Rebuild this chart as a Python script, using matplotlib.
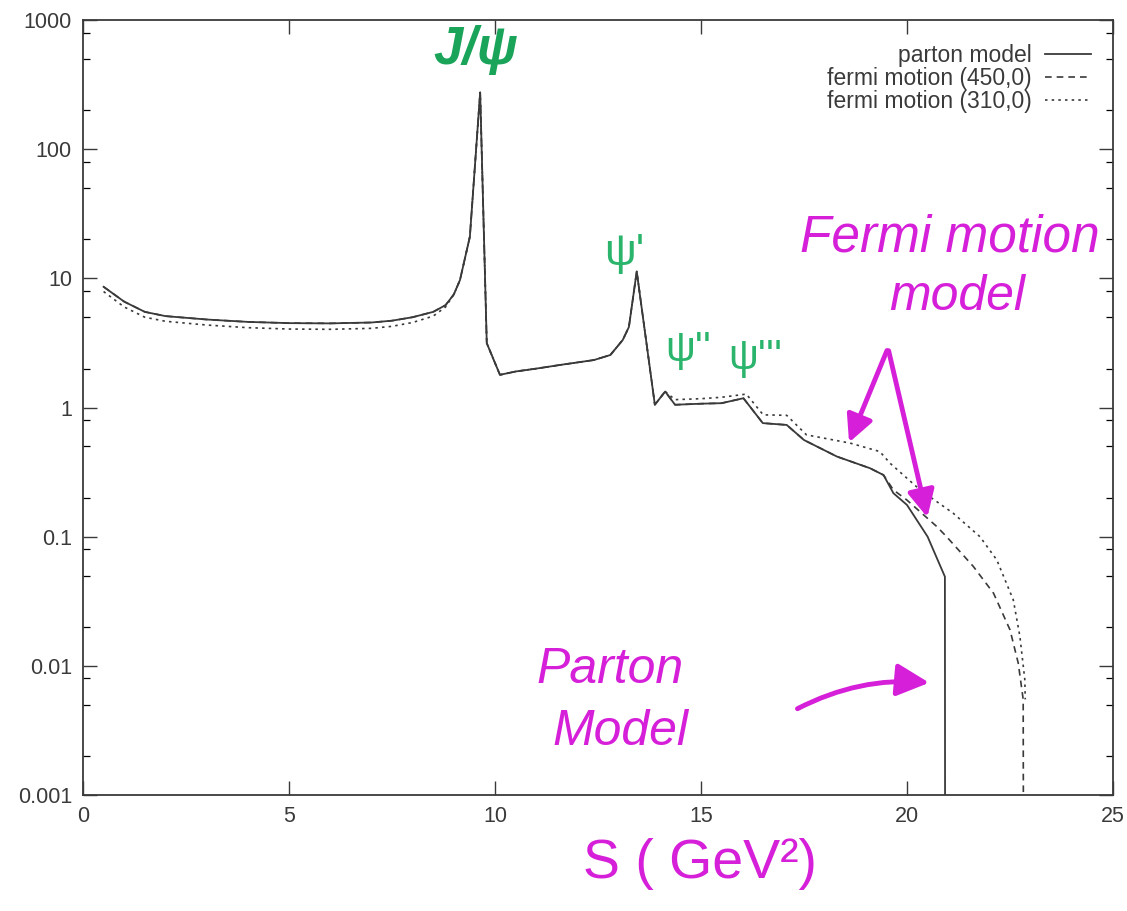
import numpy as np
import matplotlib
matplotlib.use("Agg")
import matplotlib.pyplot as plt
from matplotlib.ticker import FixedLocator, NullFormatter
from matplotlib.patches import FancyArrowPatch

# ---- data -------------------------------------------------------------
s_parton = [0.5, 1.0, 1.5, 2.0, 3.0, 4.0, 5.0, 6.0, 7.0, 7.5, 8.0, 8.5, 8.8,
            9.0, 9.15, 9.39, 9.64, 9.8, 10.12, 10.5, 11.0, 11.6, 12.4, 12.8,
            13.1, 13.25, 13.44, 13.88, 14.13, 14.37, 15.0, 15.5, 16.03, 16.5,
            17.08, 17.5, 18.3, 19.1, 19.43, 19.67, 20.0, 20.5, 20.92, 20.93]
parton = [8.6, 6.6, 5.5, 5.1, 4.8, 4.6, 4.5, 4.48, 4.55, 4.7, 5.0, 5.5, 6.2,
          7.5, 9.7, 21.0, 275.0, 3.15, 1.79, 1.9, 2.0, 2.14, 2.33, 2.55,
          3.33, 4.2, 11.3, 1.05, 1.33, 1.05, 1.07, 1.08, 1.18, 0.757,
          0.733, 0.56, 0.417, 0.339, 0.30, 0.217, 0.176, 0.10, 0.049, 1e-6]

s_fermi450 = [0.5, 1.0, 1.5, 2.0, 3.0, 4.0, 5.0, 6.0, 7.0, 7.5, 8.0, 8.5, 8.8,
              9.0, 9.15, 9.39, 9.64, 9.8, 10.12, 10.5, 11.0, 11.6, 12.4, 12.8,
              13.1, 13.25, 13.44, 13.88, 14.13, 14.37, 15.0, 15.5, 16.03, 16.5,
              17.08, 17.5, 18.3, 19.1, 19.43, 19.67, 19.99, 20.72, 20.96,
              21.61, 22.1, 22.5, 22.7, 22.82, 22.84]
fermi450 = [8.6, 6.6, 5.5, 5.1, 4.8, 4.6, 4.5, 4.48, 4.55, 4.7, 5.0, 5.5, 6.2,
            7.5, 9.7, 21.0, 275.0, 3.15, 1.79, 1.9, 2.0, 2.14, 2.33, 2.55,
            3.33, 4.2, 11.3, 1.05, 1.33, 1.05, 1.07, 1.08, 1.18, 0.757,
            0.733, 0.56, 0.417, 0.339, 0.30, 0.23, 0.193, 0.12, 0.10,
            0.0588, 0.0365, 0.019, 0.0105, 0.0055, 1e-6]

s_fermi310 = [0.5, 1.0, 1.5, 2.0, 3.0, 4.0, 5.0, 6.0, 7.0, 7.5, 8.0, 8.5, 8.8,
              9.0, 9.15, 9.39, 9.64, 9.8, 10.12, 10.5, 11.0, 11.6, 12.4, 12.8,
              13.1, 13.25, 13.44, 13.88, 14.13, 14.37, 15.0, 15.5, 16.1, 16.51,
              17.08, 17.56, 18.62, 19.34, 19.59, 20.32, 21.12, 21.77, 22.18,
              22.58, 22.74, 22.86, 22.87]
fermi310 = [7.9, 6.0, 5.0, 4.65, 4.35, 4.15, 4.05, 4.03, 4.1, 4.25, 4.55, 5.1,
            6.0, 7.5, 9.7, 21.0, 275.0, 3.15, 1.79, 1.9, 2.0, 2.14, 2.33, 2.55,
            3.33, 4.2, 11.3, 1.05, 1.33, 1.15, 1.17, 1.2, 1.27, 0.877,
            0.87, 0.614, 0.53, 0.456, 0.37, 0.23, 0.152, 0.10, 0.066,
            0.0324, 0.0169, 0.0078, 0.0055]

y_ticks = [0.001, 0.01, 0.1, 1, 10, 100, 1000]
y_tick_labels = ["0.001", "0.01", "0.1", "1", "10", "100", "1000"]
x_ticks = [0, 5, 10, 15, 20, 25]

series_labels = ["parton model", "fermi motion (450,0)", "fermi motion (310,0)"]

# ---- figure -------------------------------------------------------------
plt.rcParams["font.family"] = ["Liberation Sans", "DejaVu Sans"]
fig = plt.figure(figsize=(11.27, 9.11), dpi=100)
W, H = 1127, 911
ax = fig.add_axes([83 / W, 1 - 795 / H, 1030 / W, 775 / H])

ink = "#3a3a3a"
ax.plot(s_parton, parton, color=ink, lw=1.3, ls="-", label=series_labels[0])
ax.plot(s_fermi450, fermi450, color=ink, lw=1.2, ls=(0, (4, 3)),
        label=series_labels[1])
ax.plot(s_fermi310, fermi310, color=ink, lw=1.2, ls=(0, (1.5, 2.5)),
        label=series_labels[2])

ax.set_yscale("log")
ax.set_xlim(0, 25)
ax.set_ylim(1e-3, 1e3)

ax.yaxis.set_major_locator(FixedLocator(y_ticks))
ax.set_yticklabels(y_tick_labels)
minor = [m * 10.0 ** e for e in range(-3, 3) for m in (2, 5, 8)]
ax.yaxis.set_minor_locator(FixedLocator(minor))
ax.yaxis.set_minor_formatter(NullFormatter())
ax.xaxis.set_major_locator(FixedLocator(x_ticks))
ax.set_xticklabels([str(t) for t in x_ticks])

ax.tick_params(which="major", direction="in", length=10, width=1.0,
               top=True, right=True, labelsize=15.5, colors=ink, pad=8)
ax.tick_params(which="minor", direction="in", length=5, width=0.9,
               top=True, right=True)
for sp in ax.spines.values():
    sp.set_color(ink)
    sp.set_linewidth(1.3)

leg = ax.legend(loc="upper right", frameon=False, markerfirst=False,
                fontsize=16.5, handlelength=2.0, labelspacing=0.0,
                bbox_to_anchor=(1 - 22 / 1030, 1 - 24 / 775),
                borderaxespad=0.0, borderpad=0.0, handletextpad=0.6)
for t in leg.get_texts():
    t.set_color(ink)

# ---- hand-written annotations ------------------------------------------------
green = "#1aa45a"
green2 = "#2bb56c"
magenta = "#d61fd8"


def px(x, y):
    """figure-pixel position -> figure fraction"""
    return x / W, 1 - y / H


fig.text(*px(476, 50), "J/ψ", color=green, fontsize=38, fontweight="bold",
         ha="center", va="center", style="italic")
fig.text(*px(624, 254), "ψ'", color=green2, fontsize=32,
         ha="center", va="center")
fig.text(*px(688, 350), "ψ''", color=green2, fontsize=30,
         ha="center", va="center")
fig.text(*px(755, 358), "ψ'''", color=green2, fontsize=30,
         ha="center", va="center")

fig.text(*px(950, 238), "Fermi motion", color=magenta, fontsize=37,
         ha="center", va="center", style="italic")
fig.text(*px(957, 297), "model", color=magenta, fontsize=36,
         ha="center", va="center", style="italic")
fig.text(*px(610, 670), "Parton", color=magenta, fontsize=36,
         ha="center", va="center", style="italic")
fig.text(*px(620, 732), "Model", color=magenta, fontsize=36,
         ha="center", va="center", style="italic")
fig.text(*px(700, 864), "S ( GeV²)", color=magenta, fontsize=40,
         ha="center", va="center")

arrow_kw = dict(color=magenta, lw=3.5, arrowstyle="-|>,head_length=0.9,head_width=0.45",
                transform=fig.transFigure)
fig.patches.append(FancyArrowPatch(px(888, 348), px(848, 445),
                                   mutation_scale=18, **arrow_kw))
fig.patches.append(FancyArrowPatch(px(888, 348), px(928, 520),
                                   mutation_scale=18, **arrow_kw))
fig.patches.append(FancyArrowPatch(px(795, 710), px(932, 683),
                                   connectionstyle="arc3,rad=-0.15",
                                   mutation_scale=22, **arrow_kw))

fig.savefig("out.png", dpi=100)
